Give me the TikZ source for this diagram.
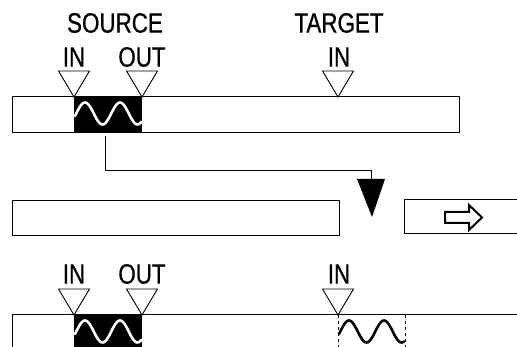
\documentclass[tikz,border=0pt]{standalone}
\usepackage{fontspec}
\setmainfont{Liberation Sans}[FakeStretch=0.8,FakeBold=0.6]

\begin{document}
\begin{tikzpicture}[x=1pt,y=-1pt,
  lbl/.style={font=\fontsize{28}{29}\selectfont, inner sep=0pt},
  bar/.style={draw, line width=1pt},
  marker/.style={draw, line width=0.9pt, fill=white, line join=miter},
  wave/.style={line width=2.6pt, line cap=round}]
\useasboundingbox (0,0) rectangle (517,347);
\clip (0,0) rectangle (517,347);
% upper track:
\draw[bar] (12,97) rectangle (459,133);
\fill (74,97) rectangle (142,133);
\draw[wave, white] plot[domain=75:141.5, samples=60] (\x, {113.5-11*sin(10.2857*(\x-76.25))});
\draw[marker] (74,97) -- ++(-15.5,-26) -- ++(31,0) -- cycle;
\draw[marker] (142,97) -- ++(-15.5,-26) -- ++(31,0) -- cycle;
\draw[marker] (338,97) -- ++(-15.5,-26) -- ++(31,0) -- cycle;
\node[lbl] (src) at (115,23) {SOURCE};
\node[lbl] (srcin) at (74,57) {IN};
\node[lbl] (srcout) at (142,57) {OUT};
\node[lbl] (tgt) at (339,23) {TARGET};
\node[lbl] (tgtin) at (339,57) {IN};
% copy line:
\coordinate (tap) at (105,136);
\coordinate (bend) at (371,171);
\coordinate (droptop) at (371,179);
\draw[line width=1pt] (tap) |- (bend) -- (droptop);
\fill (357,179) -- (385,179) -- (372,217) -- cycle;
% middle tracks:
\draw[bar] (12,201) rectangle (339,236);
\draw[bar] (404,200) rectangle (530,234);
\draw[line width=2pt, line join=miter] (445,212) -- (469,212) -- (469,205) -- (482,217.5)
  -- (469,230) -- (469,223) -- (445,223) -- cycle;
% lower track:
\draw[bar] (12,360) |- (530,315);
\fill (74,315) rectangle (142,360);
\draw[wave, white] plot[domain=75:141.5, samples=60] (\x, {331.5-11*sin(10.2857*(\x-76.25))});
\draw[dashed, line width=0.8pt] (338,315) -- (338,347) (405,315) -- (405,347);
\draw[wave, black] plot[domain=339:404, samples=60] (\x, {331.5-11*sin(10.2857*(\x-340.25))});
\draw[marker] (74,315) -- ++(-15.5,-26) -- ++(31,0) -- cycle;
\draw[marker] (142,315) -- ++(-15.5,-26) -- ++(31,0) -- cycle;
\draw[marker] (338,315) -- ++(-15.5,-26) -- ++(31,0) -- cycle;
\node[lbl] (dstin) at (74,274) {IN};
\node[lbl] (dstout) at (142,274) {OUT};
\node[lbl] (dsttgt) at (339,274) {IN};
\end{tikzpicture}
\end{document}
